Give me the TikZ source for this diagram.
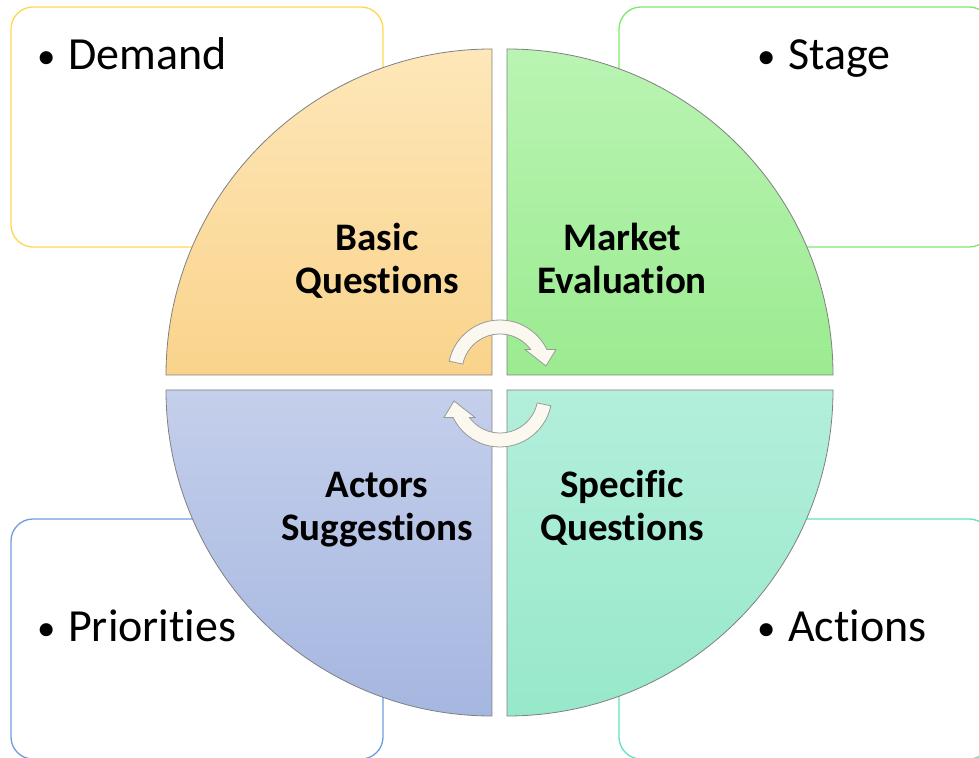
\documentclass[tikz,border=0pt]{standalone}
\usepackage{fontspec}
\setmainfont[Ligatures=NoCommon]{Carlito}
\definecolor{boxY}{HTML}{FFD84D}
\definecolor{boxG}{HTML}{7EE86C}
\definecolor{boxB}{HTML}{6E9DE0}
\definecolor{boxT}{HTML}{5FE3C3}
\definecolor{qOtop}{HTML}{FEE7B9}
\definecolor{qObot}{HTML}{F9D38B}
\definecolor{qGtop}{HTML}{BAF4B3}
\definecolor{qGbot}{HTML}{9BEB90}
\definecolor{qBtop}{HTML}{C4CFEB}
\definecolor{qBbot}{HTML}{A5B6E0}
\definecolor{qTtop}{HTML}{B3EFDB}
\definecolor{qTbot}{HTML}{97E8CA}
\definecolor{arrowfill}{HTML}{FBF8F0}
\newcommand{\itembullet}{\makebox[31pt][l]{\raisebox{1.5pt}{\scalebox{0.8}{\textbullet}}}}
\begin{document}
\begin{tikzpicture}[x=1pt,y=1pt,
  sidebox/.style={rounded corners=22pt, line width=1.3pt, fill=white},
  quadrant/.style={draw=black!50, line width=0.8pt},
  cyclearrow/.style={fill=arrowfill, draw=black!40, line width=0.8pt},
  itemtext/.style={inner sep=0pt, anchor=base west, font=\fontsize{46}{55}\selectfont},
  quadtext/.style={inner sep=0pt, align=center, font=\bfseries\fontsize{39}{43}\selectfont}
]
\clip (0,0) rectangle (979,757);
\fill[white] (0,0) rectangle (979,757);

% side boxes
\draw[sidebox, draw=boxY] (11,510) rectangle (383,750);
\draw[sidebox, draw=boxG] (619,510) rectangle (991,750);
\draw[sidebox, draw=boxB] (11,-2) rectangle (383,238);
\draw[sidebox, draw=boxT] (619,-2) rectangle (991,238);

% quadrants
\shade[quadrant, top color=qOtop, bottom color=qObot]
  (492,382) -- ++(-326,0) arc[start angle=180, end angle=90, radius=326] -- cycle;
\shade[quadrant, top color=qGtop, bottom color=qGbot]
  (507,382) -- ++(0,326) arc[start angle=90, end angle=0, radius=326] -- cycle;
\shade[quadrant, top color=qBtop, bottom color=qBbot]
  (492,367) -- ++(-326,0) arc[start angle=180, end angle=270, radius=326] -- cycle;
\shade[quadrant, top color=qTtop, bottom color=qTbot]
  (507,367) -- ++(326,0) arc[start angle=0, end angle=-90, radius=326] -- cycle;

% cycle arrows
\begin{scope}[shift={(500,385)}]
  \draw[cyclearrow] (168:52) arc[start angle=168, end angle=25.6, radius=52]
    -- (56,22.5) -- (46,6) -- (25,22.5) -- (30.6,22.5)
    arc[start angle=36.3, end angle=168, radius=38] -- cycle;
\end{scope}
\begin{scope}[shift={(500,362)}, rotate=180]
  \draw[cyclearrow] (168:52) arc[start angle=168, end angle=25.6, radius=52]
    -- (56,22.5) -- (46,6) -- (25,22.5) -- (30.6,22.5)
    arc[start angle=36.3, end angle=168, radius=38] -- cycle;
\end{scope}

% quadrant labels
\node[quadtext] (basic) at (377,494) {\strut Basic\\\strut Questions};
\node[quadtext] (market) at (622,494) {\strut Market\\\strut Evaluation};
\node[quadtext] (actors) at (377,247) {\strut Actors\\\strut Suggestions};
\node[quadtext] (specific) at (622,247) {\strut Specific\\\strut Questions};

% box items
\node[itemtext] (demand) at (37,687) {\itembullet Demand};
\node[itemtext] (stage) at (757,687) {\itembullet Stage};
\node[itemtext] (priorities) at (37,115) {\itembullet Priorities};
\node[itemtext] (actions) at (757,115) {\itembullet Actions};
\end{tikzpicture}
\end{document}
